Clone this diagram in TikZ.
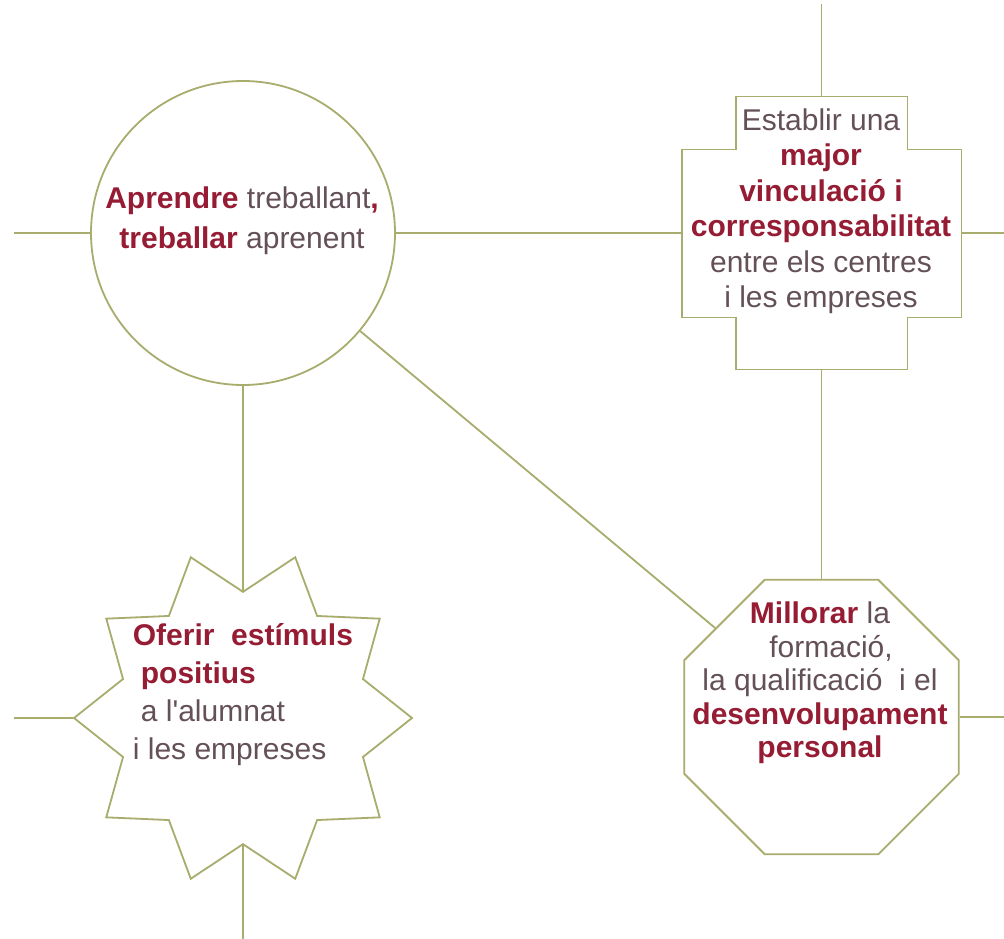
\documentclass[tikz,border=0pt]{standalone}
\usepackage{fontspec}
\setmainfont{Liberation Sans}
\usetikzlibrary{shapes.geometric}

\definecolor{olivine}{RGB}{168,172,108}
\definecolor{wine}{RGB}{150,28,52}
\definecolor{slate}{RGB}{100,80,88}
\newcommand{\kw}[1]{\textbf{\color{wine}#1}}

\begin{document}
\begin{tikzpicture}[x=1pt, y=-1pt, line width=1.8pt,
  every node/.style={inner sep=0pt},
  outline/.style={draw=olivine, fill=white},
  link/.style={draw=olivine},
  caption/.style={text=slate, align=center, font=\fontsize{30}{35}\selectfont}]
	\useasboundingbox[fill=white] (0,0) rectangle (1004,939);

	\node[circle, outline, minimum size=304pt] (aprendre) at (243,233) {};
	\node[rectangle, minimum width=278pt, minimum height=271pt] (vinculacio) at (821.5,233) {};
	\node[star, star points=10, star point ratio=1.34, shape border rotate=18, outline, minimum size=338pt] (estimuls) at (243,718) {};
	\node[regular polygon, regular polygon sides=8, outline, minimum size=297pt] (millorar) at (821.5,717) {};

	\draw[outline] ([xshift=54pt]vinculacio.north west) -- ([xshift=-54pt]vinculacio.north east) -- ++(0,53)
		-- ([yshift=-53pt]vinculacio.north east) -- ([yshift=52pt]vinculacio.south east) -- ++(-54,0)
		-- ([xshift=-54pt]vinculacio.south east) -- ([xshift=54pt]vinculacio.south west) -- ++(0,-52)
		-- ([yshift=52pt]vinculacio.south west) -- ([yshift=-53pt]vinculacio.north west) -- ++(54,0) -- cycle;

	\coordinate (top) at (821.5,4);
	\coordinate (west1) at (14,233);
	\coordinate (east1) at (1004,233);
	\coordinate (west2) at (14,718);
	\coordinate (east2) at (1004,717);
	\coordinate (bottom) at (243,939);

	\draw[link] (west1) -- (aprendre);
	\draw[link] (aprendre) -- (vinculacio);
	\draw[link] (vinculacio) -- (east1);
	\draw[link] (top) -- (vinculacio);
	\draw[link] (vinculacio) -- (millorar);
	\draw[link] (aprendre) -- (millorar);
	\draw[link] (aprendre) -- (estimuls);
	\draw[link] (west2) -- (estimuls);
	\draw[link] (estimuls) -- (bottom);
	\draw[link] (millorar) -- (east2);

	\node[caption, font=\fontsize{30}{40}\selectfont] (aprendreT) at (242,221) {\kw{Aprendre} treballant\kw{,}\\ \kw{treballar} aprenent};
	\node[caption, font=\fontsize{30}{35.5}\selectfont] (vinculacioT) at (821,211) {Establir una\\ \kw{major}\\ \kw{vinculació i}\\ \kw{corresponsabilitat}\\ entre els centres\\ i les empreses};
	\node[caption, align=left, anchor=west, font=\fontsize{30}{38}\selectfont] (estimulsT) at (132,695) {\kw{Oferir\ \ estímuls}\\ \hspace*{8pt}\kw{positius}\\ \hspace*{8pt}a l\textquotesingle alumnat\\ i les empreses};
	\node[caption, font=\fontsize{30}{33.5}\selectfont] (millorarT) at (820,683) {\kw{Millorar} la\\ \hspace*{22pt}formació,\\ la qualificació\ \ i el\\ \kw{desenvolupament}\\ \kw{personal}};
\end{tikzpicture}
\end{document}
